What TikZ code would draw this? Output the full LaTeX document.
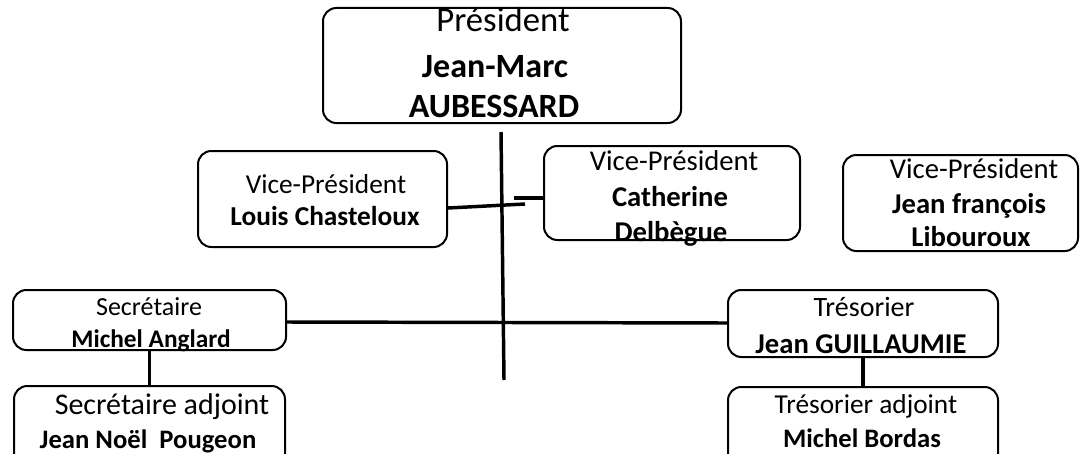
\documentclass[tikz,border=0pt]{standalone}
\usepackage{fontspec}
\setmainfont{Carlito}
\usetikzlibrary{fit}
\begin{document}
\begin{tikzpicture}[x=0.75pt,y=-0.75pt,
  box/.style={draw,line width=1.5pt,rounded corners=10pt,inner sep=0pt},
  conn/.style={line width=2.6pt},
  fs/.style={font=\fontsize{#1}{#1}\selectfont,inner sep=0pt,anchor=base},
  fb/.style={font=\fontsize{#1}{#1}\selectfont\bfseries,inner sep=0pt,anchor=base}]
\useasboundingbox (0,0) rectangle (1080,453);
% boxes
\node[box,fit={(323,8) (681,123)}] (pres) {};
\node[box,fit={(198,151) (447,247)}] (vp1) {};
\node[box,fit={(544,146) (800,240)}] (vp2) {};
\node[box,fit={(843,155) (1078,251)}] (vp3) {};
\node[box,fit={(13,290) (286,350)}] (sec) {};
\node[box,fit={(14,386) (285,475)}] (seca) {};
\node[box,fit={(728,290) (998,357)}] (tre) {};
\node[box,fit={(728,387) (998,475)}] (trea) {};
% connectors
\coordinate (vtop) at (501,132);
\coordinate (vbot) at (504,380);
\coordinate (lend) at (525,204);
\coordinate (cend) at (514,198);
\draw[conn] (vtop) -- (vbot);
\draw[conn] (vp1.east |- 0,208) -- (lend);
\draw[conn] (vp2.west |- 0,198) -- (cend);
\draw[conn] (sec.east |- 0,322) -- (tre.west |- 0,323);
\draw[conn] (sec.south) -- (seca.north);
\draw[conn] (tre.south) -- (trea.north);
% texts
\node[fs=26] (presA) at (503,32) {Président};
\node[fb=25.5] (presB) at (495,77) {Jean-Marc};
\node[fb=25.5] (presC) at (494,117) {AUBESSARD};
\node[fs=20.5] (vp1A) at (326,193) {Vice-Président};
\node[fb=20.5] (vp1B) at (325,225) {Louis Chasteloux};
\node[fs=21.5] (vp2A) at (674,170) {Vice-Président};
\node[fb=21.5] (vp2B) at (670,206) {Catherine};
\node[fb=21.5] (vp2C) at (671,241) {Delbègue};
\node[fs=21.5] (vp3A) at (974,178) {Vice-Président};
\node[fb=21.5] (vp3B) at (969,213) {Jean françois};
\node[fb=21.5] (vp3C) at (971,246) {Libouroux};
\node[fs=19.5] (secA) at (149,315) {Secrétaire};
\node[fb=19] (secB) at (151,347) {Michel Anglard};
\node[fs=22.5] (secaA) at (162,414) {Secrétaire adjoint};
\node[fb=20] (secaB) at (148,448) {Jean Noël\ \ Pougeon};
\node[fs=21] (treA) at (864,316) {Trésorier};
\node[fb=21.5] (treB) at (861,353) {Jean GUILLAUMIE};
\node[fs=20.5] (treaA) at (866,413) {Trésorier adjoint};
\node[fb=20] (treaB) at (862,447) {Michel Bordas};
\end{tikzpicture}
\end{document}
